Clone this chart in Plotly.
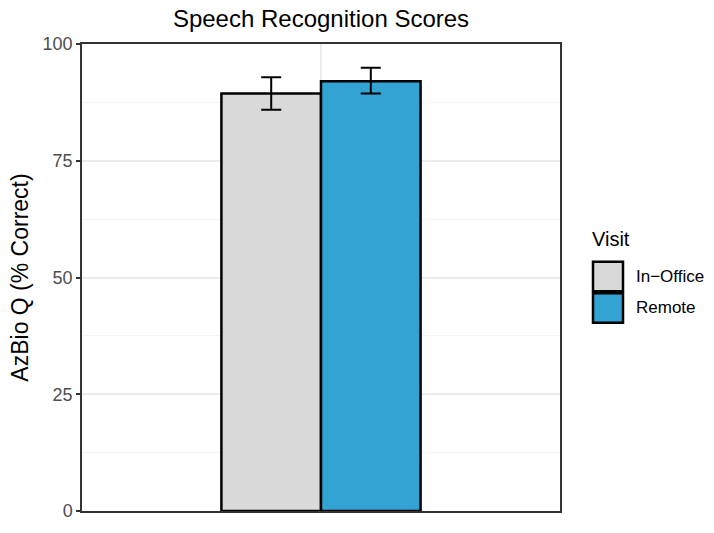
import plotly.graph_objects as go

visits = ["In\u2212Office", "Remote"]
means = [89.4, 92.0]
err_hi = [92.9, 94.9]
err_lo = [85.9, 89.4]
colors = ["#D9D9D9", "#33A3D4"]
category = [""]
y_ticks = [0, 25, 50, 75, 100]

FONT = "Arial, Liberation Sans, sans-serif"

fig = go.Figure()
for i, v in enumerate(visits):
    fig.add_trace(go.Bar(
        x=category, y=[means[i]], name=v,
        marker=dict(color=colors[i], line=dict(color="black", width=2.5)),
        error_y=dict(type="data", symmetric=False,
                     array=[err_hi[i] - means[i]], arrayminus=[means[i] - err_lo[i]],
                     color="black", thickness=2, width=10),
        showlegend=False,
    ))

L, R, T, B = 82, 154, 44, 13
W, H = 714, 533
pw = W - L - R
ph = H - T - B

def px_x(x):
    return (x - L) / pw

def px_y(y):
    return 1 - (y - T) / ph

# custom ggplot-style legend
fig.add_annotation(x=px_x(590), y=px_y(243), xref="paper", yref="paper", text="Visit",
                   showarrow=False, xanchor="left", yanchor="middle",
                   font=dict(size=20, color="black", family=FONT))
for i, v in enumerate(visits):
    y0 = 265 + 32 * i
    fig.add_shape(type="rect", xref="paper", yref="paper",
                  x0=px_x(593), x1=px_x(623), y0=px_y(y0 + 31), y1=px_y(y0 + 1),
                  fillcolor=colors[i], line=dict(color="black", width=2.5))
    fig.add_annotation(x=px_x(634), y=px_y(y0 + 16), xref="paper", yref="paper", text=v,
                       showarrow=False, xanchor="left", yanchor="middle",
                       font=dict(size=17, color="black", family=FONT))

fig.update_layout(
    width=W, height=H,
    margin=dict(l=L, r=R, t=T, b=B),
    paper_bgcolor="white", plot_bgcolor="white",
    barmode="group", bargap=0.5, bargroupgap=0,
    title=dict(text="Speech Recognition Scores", x=(L + pw / 2) / W, xanchor="center",
               y=1 - 19 / H, yanchor="middle",
               font=dict(size=24, color="black", family=FONT)),
    font=dict(family=FONT),
)
fig.update_xaxes(
    range=[-0.6, 0.6], showticklabels=False, ticks="",
    showgrid=True, gridcolor="#EBEBEB", gridwidth=1.5,
    showline=True, mirror=True, linecolor="#333333", linewidth=1.5,
)
fig.update_yaxes(
    range=[0, 100], tickvals=y_ticks, ticks="outside", ticklen=4,
    tickcolor="#333333", tickwidth=1.5,
    tickfont=dict(size=18, color="#4D4D4D", family=FONT),
    showgrid=True, gridcolor="#EBEBEB", gridwidth=1.5,
    minor=dict(dtick=12.5, showgrid=True, gridcolor="#F4F4F4", gridwidth=1),
    showline=True, mirror=True, linecolor="#333333", linewidth=1.5,
    zeroline=False,
    title=dict(text="AzBio Q (% Correct)", font=dict(size=23, color="black", family=FONT), standoff=8),
)

fig.write_html("out.html")
